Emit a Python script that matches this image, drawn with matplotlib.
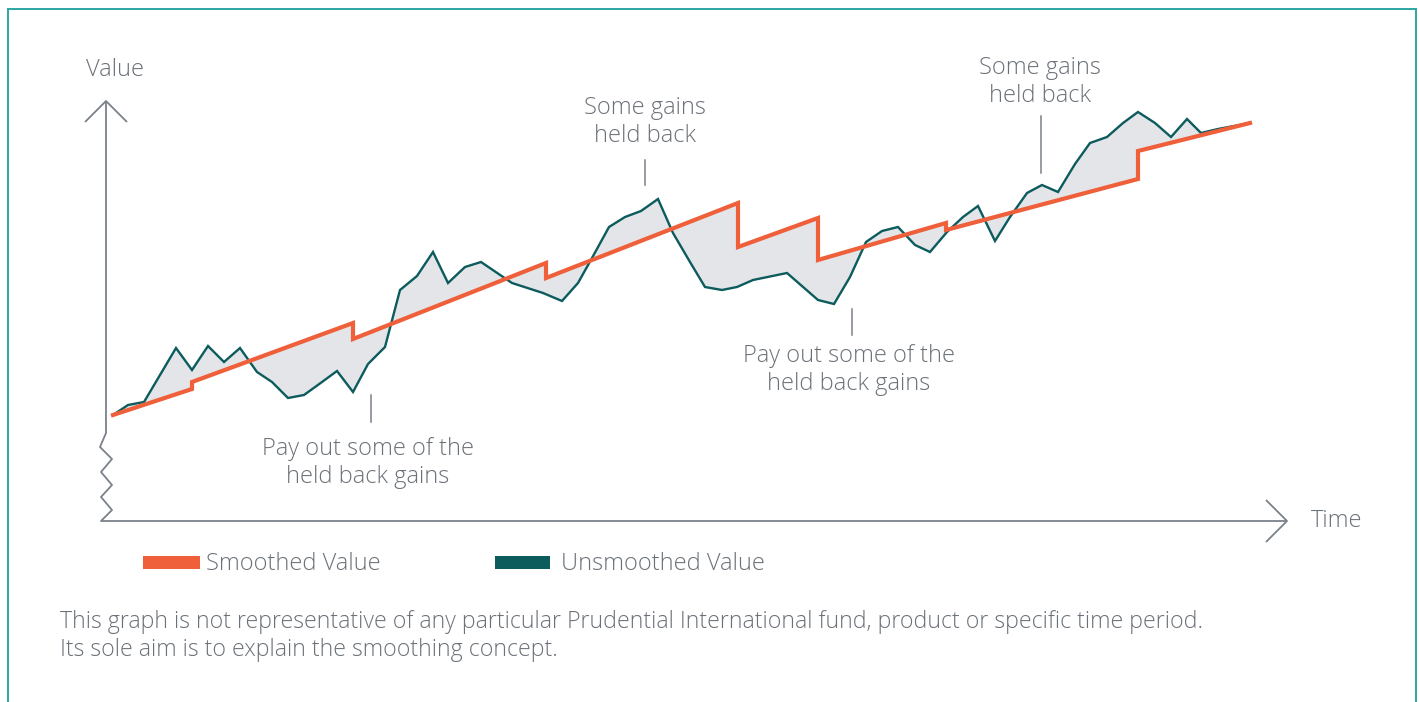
import matplotlib
matplotlib.use("Agg")
import matplotlib.pyplot as plt
from matplotlib.patches import Rectangle

# ---- data (time units along x, value units above the time axis) ----
unsmoothed_t = [8, 23, 39, 71, 87, 103, 119, 135, 152, 167,
                183, 199, 217, 232, 248, 263, 280, 295, 312, 328,
                343, 360, 376, 407, 438, 457, 473, 487, 504, 520,
                536, 553, 568, 585, 600, 617, 632, 648, 682, 713,
                729, 745, 761, 777, 793, 810, 825, 842, 858, 873,
                890, 905, 922, 937, 953, 970, 985, 1002, 1018, 1033,
                1050, 1066, 1082, 1096, 1113, 1145]
unsmoothed_v = [106, 116, 119, 173, 151, 175, 159, 173, 149, 139,
                123, 126, 139, 150, 129, 157, 174, 231, 245, 269,
                238, 254, 259, 238, 228, 220, 238, 263, 294, 304,
                310, 322, 288, 259, 234, 231, 234, 241, 248, 221,
                217, 244, 279, 290, 294, 276, 269, 289, 304, 315,
                280, 304, 328, 336, 329, 357, 378, 384, 398, 409,
                398, 384, 402, 388, 392, 398]

smoothed_t = [8, 87, 87, 248, 248, 441, 441, 633, 633, 713, 713, 841, 841, 1033, 1033, 1145]
smoothed_v = [106, 132, 139, 198, 182, 258, 243, 318, 274, 303, 261, 298, 291, 342, 370, 398]

series_labels = ["Smoothed Value", "Unsmoothed Value"]
axis_labels = ["Value", "Time"]
annotations = ["Some gains\nheld back", "Pay out some of the\nheld back gains"]
footnote = ("This graph is not representative of any particular Prudential International fund, product or specific time period.\n"
            "Its sole aim is to explain the smoothing concept.")

# ---- style ----
ORANGE = "#ee5f3a"
TEAL = "#0c5b5d"
FILL = "#e3e5e8"
AXIS = "#7b8189"
TEXT = "#6b7178"
FRAME = "#2ba6a6"
plt.rcParams['font.family'] = ['Open Sans', 'DejaVu Sans']
plt.rcParams['font.weight'] = 'light'

W, H = 1419, 702
fig = plt.figure(figsize=(W / 100, H / 100), dpi=100)
ax = fig.add_axes([0, 0, 1, 1])
X0, Y0 = 105, 521  # pixel position of the origin
ax.set_xlim(-X0, W - X0)
ax.set_ylim(Y0 - H, Y0)
ax.axis("off")


def P(x, y):
    """pixel -> data coordinates (for decorations only)"""
    return x - X0, Y0 - y


# frame
fig.patches.append(Rectangle((8 / W, -0.1), (1416 - 8) / W, (H - 9) / H + 0.1,
                             transform=fig.transFigure, fill=False,
                             edgecolor=FRAME, lw=1.4))

# fill between the two series
poly_t = unsmoothed_t + smoothed_t[::-1]
poly_v = unsmoothed_v + smoothed_v[::-1]
ax.fill(poly_t, poly_v, color=FILL, lw=0, zorder=1)
ax.plot(unsmoothed_t, unsmoothed_v, color=TEAL, lw=1.7, zorder=3,
        solid_joinstyle="miter")
ax.plot(smoothed_t, smoothed_v, color=ORANGE, lw=3.0, zorder=4,
        solid_joinstyle="miter")

# axes with arrows and break
akw = dict(color=AXIS, lw=1.3, zorder=2, solid_capstyle="butt")
yax = [P(106, 101), P(106, 433), P(100, 447), P(112, 459), P(101, 472),
       P(112, 485), P(101, 497), P(112, 510), P(101, 521), P(1287, 521)]
ax.plot([p[0] for p in yax], [p[1] for p in yax], **akw)
ya = [P(85, 122), P(106, 101), P(127, 122)]
ax.plot([p[0] for p in ya], [p[1] for p in ya], **akw)
xa = [P(1266, 500), P(1287, 521), P(1266, 542)]
ax.plot([p[0] for p in xa], [p[1] for p in xa], **akw)

fs = 17
ax.text(*P(115, 70), axis_labels[0], color=TEXT, fontsize=fs, ha="center", va="center")
ax.text(*P(1311, 521), axis_labels[1], color=TEXT, fontsize=fs, ha="left", va="center")

# annotations
tkw = dict(color=AXIS, lw=1.1)
for (cx, cy), txt, (lx, ly0, ly1) in [((645, 122), annotations[0], (645, 160, 185)),
                                       ((1040, 82), annotations[0], (1041, 116, 173)),
                                       ((368, 463), annotations[1], (371, 395, 422)),
                                       ((849, 370), annotations[1], (852, 309, 335))]:
    ax.text(*P(cx, cy), txt, color=TEXT, fontsize=fs, ha="center", va="center",
            multialignment="center", linespacing=1.26)
    a, b = P(lx, ly0), P(lx, ly1)
    ax.plot([a[0], b[0]], [a[1], b[1]], **tkw)

# legend
for (x0, x1), col, lab, tx in [((143, 200), ORANGE, series_labels[0], 206),
                                ((495, 550), TEAL, series_labels[1], 561)]:
    bl = P(x0, 569)
    ax.add_patch(Rectangle(bl, x1 - x0, 13, facecolor=col, edgecolor="none"))
    ax.text(*P(tx, 564), lab, color=TEXT, fontsize=fs, ha="left", va="center")

# footnote
ax.text(*P(60, 636), footnote, color=TEXT, fontsize=16.7, ha="left", va="center",
        linespacing=1.17)

fig.savefig("out.png", dpi=100)
